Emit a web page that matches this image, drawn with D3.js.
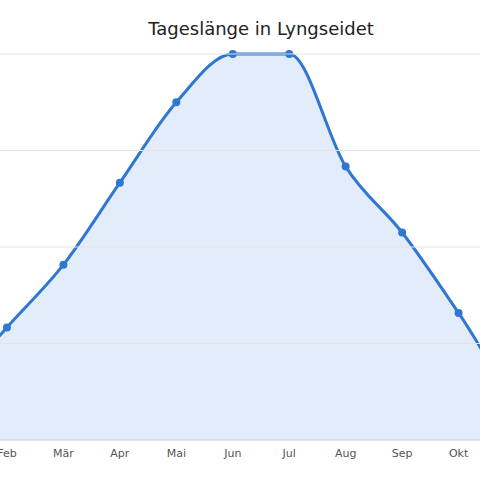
<!DOCTYPE html>
<html><head><meta charset="utf-8">
<script src="https://cdn.jsdelivr.net/npm/d3@7"></script>
<style>body{margin:0;background:#fff}</style>
</head><body>
<svg id="c" width="480" height="480"></svg>
<script>
const months = ["Jan","Feb","Mär","Apr","Mai","Jun","Jul","Aug","Sep","Okt","Nov","Dez"];
const hours = [3.0,7.0,10.9,16.0,21.0,24,24,17.0,12.9,7.9,2.6,0];
const yTicks = [0,6,12,18,24];
const svg = d3.select("#c");
const x = d3.scalePoint().domain(months).range([-49.5, 571.5]);
const y = d3.scaleLinear().domain([0,24]).range([440,54]);
svg.append("defs").append("clipPath").attr("id","cp").append("rect").attr("x",0).attr("y",0).attr("width",480).attr("height",441);
const data = months.map((m,i)=>({m,v:hours[i]}));
const g = svg.append("g").attr("clip-path","url(#cp)");
g.append("path").datum(data).attr("fill","#e3ecfa")
  .attr("d",d3.area().x(d=>x(d.m)).y0(y(0)).y1(d=>y(d.v)).curve(d3.curveMonotoneX));
svg.append("g").selectAll("line").data(yTicks).join("line")
  .attr("x1",0).attr("x2",480).attr("y1",d=>y(d)).attr("y2",d=>y(d))
  .attr("stroke",d=>d===0?"#ccc":"#e3e3e3");
g.append("path").datum(data).attr("fill","none").attr("stroke","#2f77d1").attr("stroke-width",3)
  .attr("d",d3.line().x(d=>x(d.m)).y(d=>y(d.v)).curve(d3.curveMonotoneX));
g.selectAll("circle").data(data).join("circle").attr("cx",d=>x(d.m)).attr("cy",d=>y(d.v)).attr("r",4).attr("fill","#2f77d1");
svg.append("g").selectAll("text").data(months).join("text")
  .attr("x",d=>x(d)).attr("y",457).attr("text-anchor","middle")
  .attr("font-family","DejaVu Sans").attr("font-size",11).attr("fill","#555").text(d=>d);
svg.append("text").attr("x",261).attr("y",35).attr("text-anchor","middle")
  .attr("font-family","DejaVu Sans").attr("font-size",18).attr("fill","#222").text("Tageslänge in Lyngseidet");
</script>
</body></html>
